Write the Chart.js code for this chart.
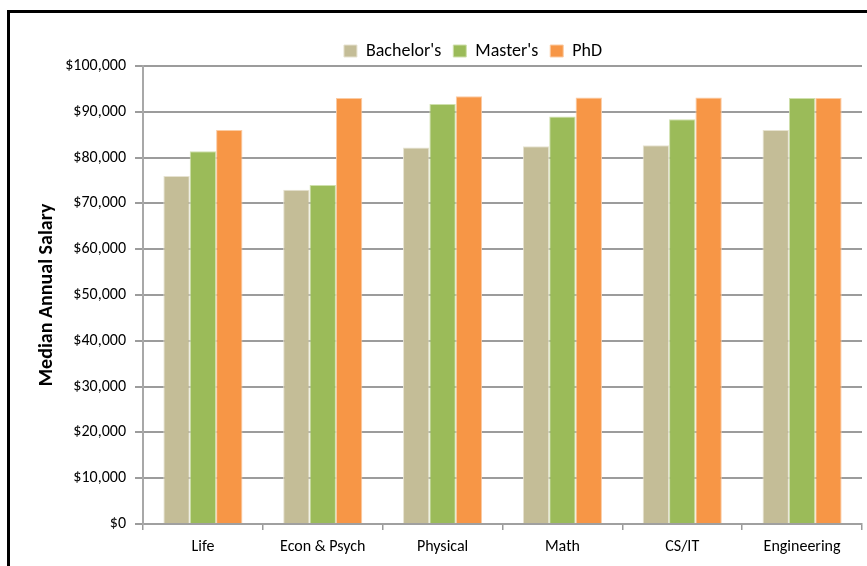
<!DOCTYPE html>
<html>
<head>
<meta charset="utf-8">
<script src="https://cdn.jsdelivr.net/npm/chart.js@4.4.1/dist/chart.umd.min.js"></script>
<style>
  html, body { margin: 0; padding: 0; background: #fff; overflow: hidden; }
  #wrap { position: absolute; left: 0; top: 0; width: 867px; height: 566px; }
  #frame { position: absolute; left: 7px; top: 10px; width: 900px; height: 600px; border: 3px solid #000; box-sizing: border-box; }
  canvas { position: absolute; left: 0; top: 0; }
</style>
</head>
<body>
<div id="wrap">
  <div id="frame"></div>
  <canvas id="c" width="867" height="566"></canvas>
</div>
<script>
const categories = ["Life", "Econ & Psych", "Physical", "Math", "CS/IT", "Engineering"];
const bachelors = [76000, 73000, 82200, 82500, 82700, 86000];
const masters   = [81400, 74000, 91700, 89000, 88400, 93000];
const phd       = [86000, 93000, 93400, 93100, 93100, 93000];
const seriesNames = ["Bachelor's", "Master's", "PhD"];
const yTickValues = [0, 10000, 20000, 30000, 40000, 50000, 60000, 70000, 80000, 90000, 100000];

const FONT = "Carlito, Lato, 'Liberation Sans', sans-serif";

const legendShift = {
  id: 'legendShift',
  afterLayout(chart) {
    const dx = 42, dy = 4;
    chart.legend.left += dx;
    chart.legend.right += dx;
    chart.legend.top += dy;
    chart.legend.bottom += dy;
  }
};

new Chart(document.getElementById('c'), {
  type: 'bar',
  data: {
    labels: categories,
    datasets: [
      { label: seriesNames[0], data: bachelors, backgroundColor: '#C4BD97', borderColor: '#E6E2D0', borderWidth: 1 },
      { label: seriesNames[1], data: masters,   backgroundColor: '#9BBB59', borderColor: '#CFE0AC', borderWidth: 1 },
      { label: seriesNames[2], data: phd,       backgroundColor: '#F79646', borderColor: '#FBCBA3', borderWidth: 1 }
    ]
  },
  options: {
    responsive: false,
    animation: false,
    devicePixelRatio: 1,
    layout: { padding: { left: 0, right: 5, top: 26, bottom: 0 } },
    datasets: { bar: { categoryPercentage: 0.66, barPercentage: 1.0 } },
    plugins: {
      legend: {
        position: 'top',
        labels: {
          color: '#000',
          font: { family: FONT, size: 18 },
          boxWidth: 13,
          boxHeight: 12,
          padding: 12
        }
      },
      tooltip: { enabled: false }
    },
    scales: {
      x: {
        grid: { display: true, drawOnChartArea: false, drawTicks: true, tickLength: 6, tickColor: '#9a9a9a', offset: true, lineWidth: 1.5 },
        border: { display: true, color: '#a0a0a0', width: 2 },
        ticks: { color: '#000', font: { family: FONT, size: 16 }, padding: 7, maxRotation: 0 },
        afterFit(scale) { scale.height = 42; }
      },
      y: {
        min: 0, max: 100000,
        afterBuildTicks(scale) { scale.ticks = yTickValues.map(v => ({ value: v })); },
        grid: { color: '#9c9c9c', lineWidth: 2, tickLength: 8, tickColor: '#9c9c9c' },
        border: { display: true, color: '#a8a8a8', width: 2 },
        ticks: {
          color: '#000',
          font: { family: FONT, size: 16 },
          padding: 9,
          callback: v => '$' + Number(v).toLocaleString('en-US')
        },
        title: {
          display: true,
          text: 'Median Annual Salary',
          color: '#000',
          font: { family: FONT, size: 20, weight: 'bold' },
          padding: { top: 35, bottom: 0 }
        },
        afterFit(scale) { scale.width = 143; }
      }
    }
  },
  plugins: [legendShift]
});
</script>
</body>
</html>
